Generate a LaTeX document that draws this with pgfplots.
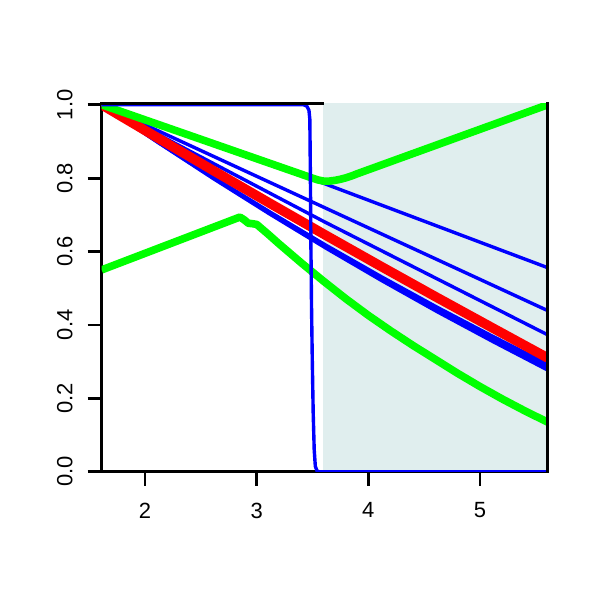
\documentclass[border=0pt]{standalone}
\usepackage{fontspec}
\setmainfont{Liberation Sans}
\usepackage{pgfplots}
\pgfplotsset{compat=1.18}
\definecolor{shadecol}{RGB}{224,238,238}
\definecolor{pblue}{RGB}{0,0,255}
\definecolor{pred}{RGB}{255,0,0}
\definecolor{pgreen}{RGB}{0,255,0}
\begin{document}
\begin{tikzpicture}
\path[use as bounding box] (-50.85pt,-64.15pt) rectangle (249.15pt,235.85pt);
\begin{axis}[
  at={(0,0)}, anchor=south west,
  scale only axis, width=223pt, height=184.2pt,
  xmin=1.612, xmax=5.606, ymin=0, ymax=1.004,
  axis x line*=bottom, axis y line*=left,
  axis line style={line width=1.4pt, black},
  xtick={2,3,4,5},
  ytick={0,0.2,0.4,0.6,0.8,1},
  yticklabels={0.0,0.2,0.4,0.6,0.8,1.0},
  tick align=outside, major tick length=7pt,
  tick style={line width=1.4pt, black},
  ticklabel style={font=\fontsize{11}{12}\selectfont},
  yticklabel style={rotate=90, anchor=south},
  xticklabel shift=5pt, yticklabel shift=4pt,
  /pgf/number format/assume math mode=true,
  every axis plot/.append style={line join=round},
]
% shaded region
\addplot[draw=none, fill=shadecol] coordinates {(3.591,-0.02) (3.591,1.03) (5.62,1.03) (5.62,-0.02)} -- cycle;
% blue lines
\addplot[pblue, line width=1.7pt] coordinates {(1.612,1.000) (3.59,0.787) (5.606,0.556)};
\addplot[pblue, line width=1.7pt] coordinates {(1.612,1.000) (5.606,0.439)};
\addplot[pblue, line width=1.7pt] coordinates {(1.612,1.000) (3.600,0.682) (5.606,0.373)};
\addplot[pblue, line width=1.7pt] coordinates {(1.612,1.000) (2.115,0.8993) (2.615,0.8021) (3.115,0.7085) (3.615,0.6182) (4.115,0.5316) (4.615,0.4483) (5.115,0.3687) (5.606,0.293)};
\addplot[pblue, line width=1.7pt] coordinates {(1.612,1.000) (2.115,0.8983) (2.615,0.8000) (3.115,0.7053) (3.615,0.6140) (4.115,0.5263) (4.615,0.4420) (5.115,0.3613) (5.606,0.285)};
\addplot[pblue, line width=1.7pt] coordinates {(1.612,1.000) (2.115,0.8974) (2.615,0.7981) (3.115,0.7025) (3.615,0.6102) (4.115,0.5216) (4.615,0.4363) (5.115,0.3547) (5.606,0.277)};
% red mean line
\addplot[pred, line width=4.8pt] coordinates {(1.612,1.000) (2.115,0.9095) (2.615,0.8201) (3.115,0.7320) (3.615,0.6450) (4.115,0.5593) (4.615,0.4747) (5.115,0.3914) (5.606,0.310)};
% green bands
\addplot[pgreen, line width=3.8pt] coordinates {(1.612,1.000) (3.50,0.800) (3.55,0.795) (3.60,0.792) (3.65,0.792) (3.70,0.794) (3.75,0.797) (3.80,0.801) (3.85,0.806) (3.90,0.812) (5.606,1.000)};
\addplot[pgreen, line width=3.8pt] coordinates {(1.612,0.550) (2.85,0.694) (2.89,0.686) (2.925,0.677) (2.96,0.676) (3.00,0.674) (3.1,0.648) (3.2,0.621) (3.3,0.595) (3.4,0.569) (3.5,0.544) (3.6,0.519) (3.7,0.495) (3.8,0.471) (4.0,0.426) (4.2,0.384) (4.4,0.344) (4.6,0.306) (4.8,0.268) (5.0,0.232) (5.2,0.198) (5.4,0.166) (5.606,0.135)};
% step line
\addplot[pblue, line width=1.7pt] coordinates {(1.612,1.000) (3.42,1.000) (3.45,0.996) (3.468,0.985) (3.476,0.96) (3.481,0.80) (3.486,0.60) (3.491,0.45) (3.498,0.30) (3.506,0.16) (3.515,0.06) (3.525,0.015) (3.54,0.002) (3.56,0.000) (5.606,0.000)};
\coordinate (tl) at (rel axis cs:0,1);
\coordinate (tr) at (rel axis cs:1,1);
\coordinate (br) at (rel axis cs:1,0);
\coordinate (sh) at (axis cs:3.591,0);
\end{axis}
\draw[line width=1.4pt, line cap=rect] (tl) -- (sh |- tl);
\draw[line width=1.4pt, line cap=rect] (br) -- (tr);
\end{tikzpicture}
\end{document}
